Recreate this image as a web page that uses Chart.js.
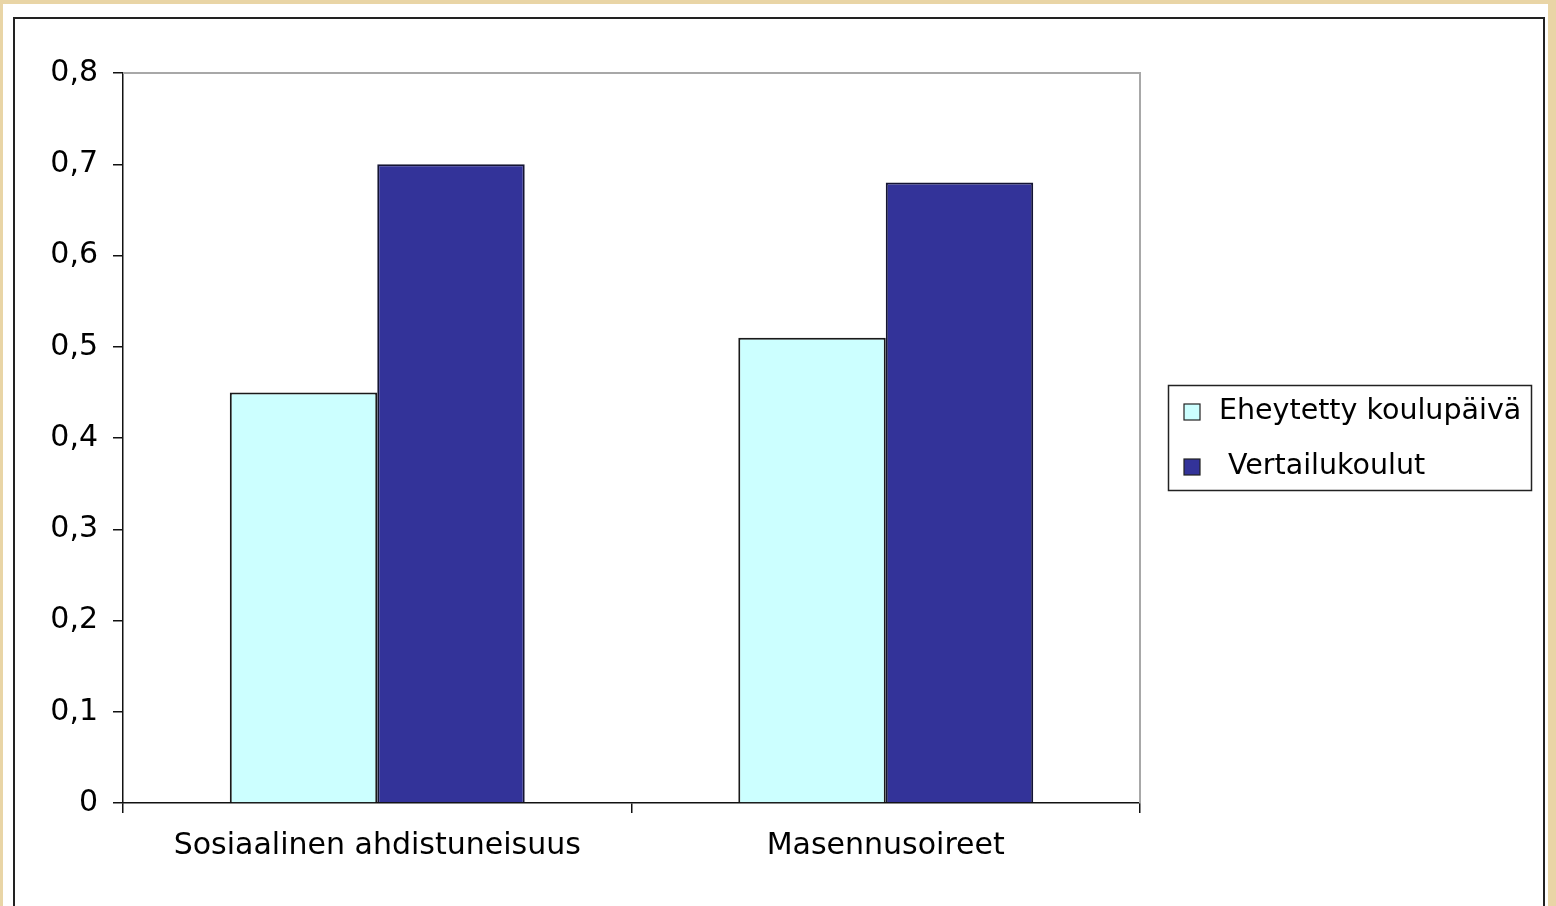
<!DOCTYPE html>
<html>
<head>
<meta charset="utf-8">
<script src="https://cdn.jsdelivr.net/npm/chart.js@4.4.1/dist/chart.umd.min.js"></script>
<style>
  html, body { margin: 0; padding: 0; }
  body {
    width: 1556px; height: 906px; overflow: hidden; position: relative;
    background: #e9d5a6;
  }
  #panel {
    position: absolute; left: 3px; top: 4px; width: 1545px; height: 920px;
    background: #fff;
  }
  #frame {
    position: absolute; left: 13px; top: 17px; width: 1528px; height: 920px;
    border: 2px solid #222; border-bottom: none;
  }
  #chart { position: absolute; left: 0; top: 0; }
</style>
</head>
<body>
<div id="panel"></div>
<div id="frame"></div>
<canvas id="chart" width="1556" height="906"></canvas>
<script>
const CATEGORIES = ['Sosiaalinen ahdistuneisuus', 'Masennusoireet'];
const SERIES_NAMES = ['Eheytetty koulupäivä', 'Vertailukoulut'];
const EHEYTETTY = [0.45, 0.51];
const VERTAILU = [0.70, 0.68];
const Y_MIN = 0;
const Y_MAX = 0.8;
const Y_STEP = 0.1;

const COLORS = ['#ccffff', '#333399'];
const FONT = "'DejaVu Sans', 'Liberation Sans', Arial, sans-serif";

// grey top/right edge of the plot area
const plotFrame = {
  id: 'plotFrame',
  beforeDatasetsDraw(chart) {
    const { ctx, chartArea: a } = chart;
    ctx.save();
    ctx.strokeStyle = '#a8a8a8';
    ctx.lineWidth = 2;
    ctx.beginPath();
    ctx.moveTo(a.left, a.top);
    ctx.lineTo(a.right, a.top);
    ctx.lineTo(a.right, a.bottom);
    ctx.stroke();
    ctx.restore();
  },
};

// boxed legend to the right of the plot
const boxLegend = {
  id: 'boxLegend',
  afterDraw(chart) {
    const { ctx } = chart;
    const left = 1168, top = 385, width = 363, height = 105;
    ctx.save();
    ctx.strokeStyle = '#222';
    ctx.lineWidth = 1.5;
    ctx.strokeRect(left + 0.5, top + 0.5, width, height);
    ctx.font = '28.5px ' + FONT;
    ctx.textBaseline = 'middle';
    chart.data.datasets.forEach((ds, i) => {
      let cy = top + 27 + i * 55;
      ctx.fillStyle = ds.backgroundColor;
      ctx.fillRect(1184, cy - 8, 16, 16);
      ctx.strokeStyle = '#222';
      ctx.lineWidth = 1.2;
      ctx.strokeRect(1184, cy - 8, 16, 16);
      ctx.fillStyle = '#000';
      ctx.fillText(ds.label, i === 0 ? 1219 : 1228, cy);
    });
    ctx.restore();
  },
};

document.addEventListener('DOMContentLoaded', () => {
  let el = document.getElementById('chart');
  new Chart(el, {
    type: 'bar',
    data: {
      labels: CATEGORIES,
      datasets: [
        {
          label: SERIES_NAMES[0],
          data: EHEYTETTY,
          backgroundColor: COLORS[0],
          borderColor: '#1a1a1a',
          borderWidth: 2,
          categoryPercentage: 0.58,
          barPercentage: 1,
        },
        {
          label: SERIES_NAMES[1],
          data: VERTAILU,
          backgroundColor: COLORS[1],
          borderColor: '#141433',
          borderWidth: 2,
          categoryPercentage: 0.58,
          barPercentage: 1,
        },
      ],
    },
    options: {
      responsive: false,
      animation: false,
      layout: { padding: { left: 0, top: 73, right: 416, bottom: 0 } },
      plugins: {
        legend: { display: false },
        tooltip: { enabled: false },
      },
      scales: {
        x: {
          grid: {
            offset: true,
            drawOnChartArea: false,
            drawTicks: true,
            tickLength: 10,
            color: '#111',
            lineWidth: 1.5,
          },
          border: { display: true, color: '#111', width: 1.5 },
          ticks: {
            color: '#000',
            font: { family: FONT, size: 30 },
            padding: 15,
            maxRotation: 0,
          },
          afterFit: (scale) => { scale.height = 103; },
        },
        y: {
          min: Y_MIN,
          max: Y_MAX,
          grid: {
            drawOnChartArea: false,
            drawTicks: true,
            tickLength: 10,
            color: '#111',
            lineWidth: 1.5,
          },
          border: { display: true, color: '#111', width: 1.5 },
          ticks: {
            stepSize: Y_STEP,
            color: '#000',
            font: { family: FONT, size: 30 },
            padding: 15,
            callback: (v) => (v === 0 ? '0' : v.toFixed(1).replace('.', ',')),
          },
          afterFit: (scale) => { scale.width = 123; },
        },
      },
    },
    plugins: [plotFrame, boxLegend],
  });
});
</script>
</body>
</html>
